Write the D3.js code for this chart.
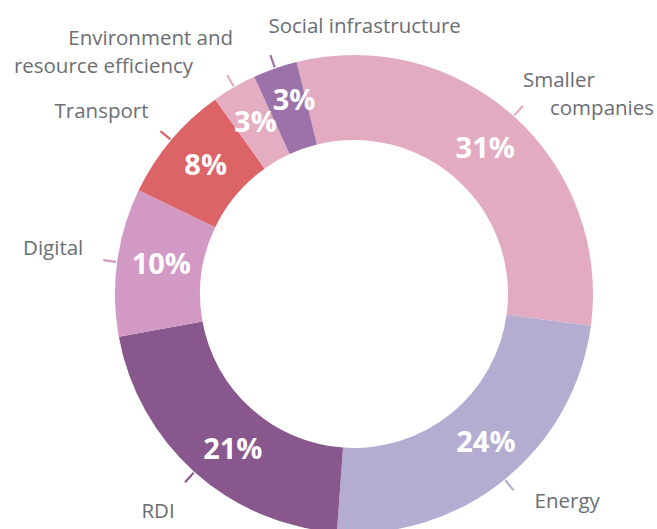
<!DOCTYPE html>
<html>
<head>
  <meta charset="utf-8">
  <script src="https://d3js.org/d3.v7.min.js"></script>
  <style>
    body { margin: 0; background: #ffffff; }
    svg { display: block; }
    .label { font-family: "Open Sans", sans-serif; font-size: 20.5px; fill: #6b6e72; }
    .pct { font-family: "Open Sans", sans-serif; font-size: 29px; font-weight: bold; fill: #ffffff; }
  </style>
</head>
<body>
<script>
// data
var sectors = ["Smaller companies", "Energy", "RDI", "Digital", "Transport",
               "Environment and resource efficiency", "Social infrastructure"];
var shares = [31, 24, 21, 10, 8, 3, 3];
var labelLines = [["Smaller", "companies"], ["Energy"], ["RDI"], ["Digital"], ["Transport"],
                  ["Environment and", "resource efficiency"], ["Social infrastructure"]];
var colors = ["#e3abc1", "#b4add1", "#87578d", "#d399c5", "#dd6466", "#e4adc2", "#9b72aa"];

var width = 657, height = 529;
var cx = 354, cy = 294, outerR = 239, innerR = 154;

// label placement relative to end of leader tick: [dx, dy, anchor, lineOffsets]
var labelLayout = [
  {dx: 0, dy: -19, anchor: "start", lines: [[0, 0], [27, 28]]},
  {dx: 21, dy: 18, anchor: "start", lines: [[0, 0]]},
  {dx: -27, dy: 36, anchor: "middle", lines: [[0, 0]]},
  {dx: -20, dy: -5, anchor: "end", lines: [[0, 0]]},
  {dx: -12, dy: -13, anchor: "end", lines: [[0, 0]]},
  {dx: 6, dy: -30, anchor: "end", lines: [[0, 0], [-40, 28]]},
  {dx: -2, dy: -22, anchor: "start", lines: [[0, 0]]}
];
var pctNudge = [[0, 0], [8, -5], [10, 8], [2, -4], [2, -3], [0, -2], [5, -9]];

var svg = d3.select("body").append("svg")
  .attr("width", width).attr("height", height);

var g = svg.append("g").attr("transform", "translate(" + cx + "," + cy + ")");

var startA = -13.9 * Math.PI / 180;
var pie = d3.pie().sort(null).value(function(d) { return d; })
  .startAngle(startA).endAngle(startA + 2 * Math.PI);
var arcs = pie(shares);

var arc = d3.arc().innerRadius(innerR).outerRadius(outerR);

g.selectAll(".slice")
  .data(arcs)
  .enter().append("path")
  .attr("class", "slice")
  .attr("d", arc)
  .attr("fill", function(d, i) { return colors[i]; });

function pointAt(a, r) { return [r * Math.sin(a), -r * Math.cos(a)]; }
function mid(d) { return (d.startAngle + d.endAngle) / 2; }

// leader ticks
g.selectAll(".tick")
  .data(arcs)
  .enter().append("line")
  .attr("class", "tick")
  .attr("x1", function(d) { return pointAt(mid(d), outerR + 1)[0]; })
  .attr("y1", function(d) { return pointAt(mid(d), outerR + 1)[1]; })
  .attr("x2", function(d) { return pointAt(mid(d), outerR + 14)[0]; })
  .attr("y2", function(d) { return pointAt(mid(d), outerR + 14)[1]; })
  .attr("stroke", function(d, i) { return colors[i]; })
  .attr("stroke-width", 2.2);

// outer labels
arcs.forEach(function(d, i) {
  var p = pointAt(mid(d), outerR + 14);
  var lay = labelLayout[i];
  var t = g.append("text")
    .attr("class", "label")
    .attr("text-anchor", lay.anchor);
  labelLines[i].forEach(function(line, j) {
    t.append("tspan")
      .attr("x", p[0] + lay.dx + lay.lines[j][0])
      .attr("y", p[1] + lay.dy + lay.lines[j][1])
      .text(line);
  });
});

// percentage labels
g.selectAll(".pct")
  .data(arcs)
  .enter().append("text")
  .attr("class", "pct")
  .attr("text-anchor", "middle")
  .attr("dy", "0.36em")
  .attr("x", function(d, i) { return arc.centroid(d)[0] + pctNudge[i][0]; })
  .attr("y", function(d, i) { return arc.centroid(d)[1] + pctNudge[i][1]; })
  .text(function(d) { return d.data + "%"; });
</script>
</body>
</html>
